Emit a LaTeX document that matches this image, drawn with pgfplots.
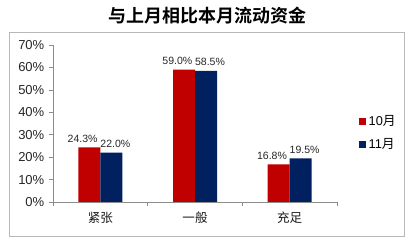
\documentclass[border=0pt]{standalone}
\usepackage{fontspec}
\usepackage{pgfplots}
\pgfplotsset{compat=1.18}
\setmainfont{Liberation Sans}
\newfontfamily\cjk{Noto Sans CJK SC}[BoldFont={Noto Sans CJK SC Bold}]
\definecolor{cred}{HTML}{C00000}
\definecolor{cblue}{HTML}{002060}
\begin{document}
\begin{tikzpicture}
\begin{axis}[
  at={(0pt,0pt)}, anchor=south west,
  scale only axis, width=213pt, height=117.75pt,
  ymin=0, ymax=70, ytick={0,10,...,70},
  yticklabel={\pgfmathprintnumber{\tick}\%},
  /pgf/number format/assume math mode=true,
  xmin=-0.5, xmax=2.5, xtick={0,1,2},
  xticklabels={{\cjk 紧张},{\cjk 一般},{\cjk 充足}},
  minor xtick={-0.5,0.5,1.5,2.5},
  major x tick style={draw=none},
  axis x line=bottom, axis y line=left,
  axis line style={-, draw=black!45},
  every tick/.style={draw=black!45},
  minor x tick style={draw=black!45},
  tick align=outside, major tick length=3pt, minor tick length=3pt,
  yticklabel style={font=\fontsize{9.75}{11}\selectfont, text=black!85},
  xticklabel style={font=\fontsize{9.4}{11}\selectfont, text=black!90, yshift=-1pt},
  ybar=0pt, bar width=16.5pt,
  nodes near coords={\pgfmathprintnumber[fixed,fixed zerofill,precision=1]{\pgfplotspointmeta}\%},
  every node near coord/.append style={font=\fontsize{7.9}{9}\selectfont, text=black!85},
  legend style={at={(1.075,0.44)}, anchor=west, draw=none, fill=none,
    font=\fontsize{9.6}{11}\selectfont, row sep=4pt, inner sep=0pt},
  legend cell align=left,
  legend image code/.code={\fill[#1] (0pt,-2.8pt) rectangle (5.6pt,2.8pt);},
]
\addplot[fill=cred, draw=none, every node near coord/.append style={xshift=-5pt}] coordinates {(0,24.3) (1,59.0) (2,16.8)};
\addplot[fill=cblue, draw=none, every node near coord/.append style={xshift=3pt}] coordinates {(0,22.0) (1,58.5) (2,19.5)};
\legend{{10{\cjk 月}},{11{\cjk 月}}}
\end{axis}
\begin{scope}[x=0.75pt,y=0.75pt,shift={(-53,-43)}]
\path (0,0) rectangle (413,245);
\draw[black!28] (9,9) rectangle (404,213);
\node[font=\cjk\bfseries\fontsize{13.5}{15}\selectfont] at (207,229) {与上月相比本月流动资金};
\end{scope}
\end{tikzpicture}
\end{document}
